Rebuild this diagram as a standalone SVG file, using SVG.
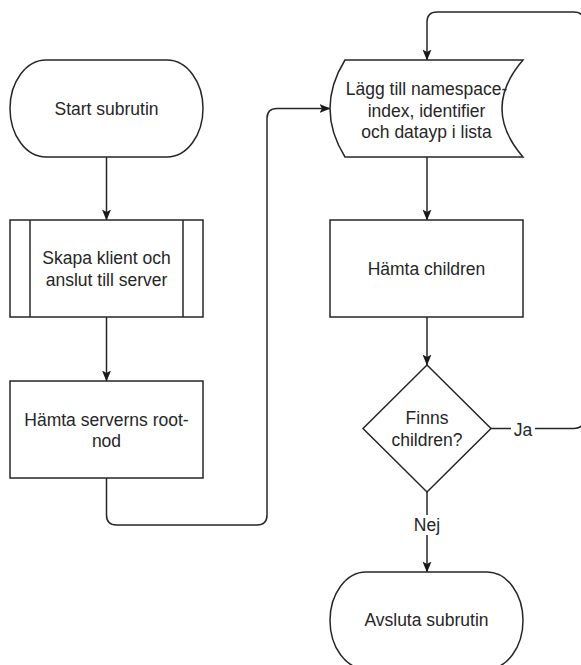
<svg xmlns="http://www.w3.org/2000/svg" width="581" height="665" viewBox="0 0 581 665">
  <defs>
    <marker id="arrow" viewBox="0 0 11 9" markerWidth="11" markerHeight="9" refX="10.5" refY="4.5" orient="auto" markerUnits="userSpaceOnUse">
      <path d="M0,0 L11,4.5 L0,9 L2.5,4.5 Z" fill="#1a1a1a" stroke="none"/>
    </marker>
  </defs>
  <style>
    .shape { fill: #ffffff; stroke: #262626; stroke-width: 1.5; }
    .edge { fill: none; stroke: #262626; stroke-width: 1.5; }
    .label { font-family: "Liberation Sans", Arial, Helvetica, sans-serif; font-size: 17.5px; fill: #262626; text-anchor: middle; dominant-baseline: central; }
  </style>
  <rect width="581" height="665" fill="#ffffff"/>

  <!-- connectors -->
  <g id="connectors">
    <path class="edge" d="M106.5,157 L106.5,220" marker-end="url(#arrow)"/>
    <path class="edge" d="M106.5,317 L106.5,381" marker-end="url(#arrow)"/>
    <path class="edge" d="M106.5,478 L106.5,515 Q106.5,525 116.5,525 L257,525 Q267,525 267,515 L267,118.5 Q267,108.5 277,108.5 L330,108.5" marker-end="url(#arrow)"/>
    <path class="edge" d="M427,157 L427,220" marker-end="url(#arrow)"/>
    <path class="edge" d="M427,317 L427,365" marker-end="url(#arrow)"/>
    <path class="edge" d="M427,492 L427,572" marker-end="url(#arrow)"/>
    <path class="edge" d="M491,428.5 L574,428.5 Q584,428.5 584,418.5 L584,22 Q584,12 574,12 L437,12 Q427,12 427,22 L427,60" marker-end="url(#arrow)"/>
    <rect x="511" y="420" width="24" height="18" fill="#ffffff"/>
    <text class="label" x="523" y="429.5">Ja</text>
    <rect x="410" y="515" width="34" height="20" fill="#ffffff"/>
    <text class="label" x="427" y="525">Nej</text>
  </g>

  <!-- start terminator -->
  <g id="start">
    <rect class="shape" x="10" y="60" width="193" height="97" rx="36" ry="48.5"/>
    <text class="label" x="106.5" y="108.5">Start subrutin</text>
  </g>

  <!-- predefined process -->
  <g id="skapa-klient">
    <rect class="shape" x="10" y="220" width="193" height="97"/>
    <line class="edge" x1="30" y1="220" x2="30" y2="317"/>
    <line class="edge" x1="183" y1="220" x2="183" y2="317"/>
    <text class="label" x="106.5" y="258">Skapa klient och</text>
    <text class="label" x="106.5" y="279.5">anslut till server</text>
  </g>

  <g id="hamta-rootnod">
    <rect class="shape" x="10" y="381" width="193" height="97"/>
    <text class="label" x="106.5" y="419.5">Hämta serverns root-</text>
    <text class="label" x="106.5" y="441">nod</text>
  </g>

  <!-- stored data shape -->
  <g id="lagg-till">
    <path class="shape" d="M345,60 L523,60 Q481,108.5 523,157 L345,157 Q315,108.5 345,60 Z"/>
    <text class="label" x="426.5" y="89">Lägg till namespace-</text>
    <text class="label" x="426.5" y="110.5">index, identifier</text>
    <text class="label" x="426.5" y="132">och datayp i lista</text>
  </g>

  <g id="hamta-children">
    <rect class="shape" x="330" y="220" width="193" height="97"/>
    <text class="label" x="426.5" y="268.5">Hämta children</text>
  </g>

  <g id="finns-children">
    <path class="shape" d="M427,365 L491,428.5 L427,492 L363,428.5 Z"/>
    <text class="label" x="427" y="418">Finns</text>
    <text class="label" x="427" y="440">children?</text>
  </g>

  <!-- end terminator -->
  <g id="avsluta">
    <rect class="shape" x="330" y="572" width="193" height="97" rx="36" ry="48.5"/>
    <text class="label" x="426.5" y="620">Avsluta subrutin</text>
  </g>
</svg>
